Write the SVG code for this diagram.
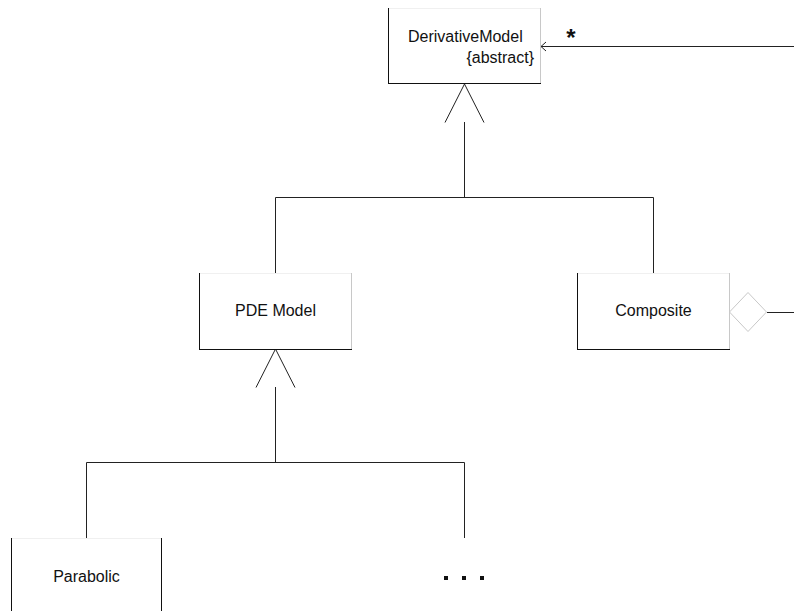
<svg xmlns="http://www.w3.org/2000/svg" width="794" height="611" viewBox="0 0 794 611">
  <style>
    .lbl { font-family: "Liberation Sans", Arial, sans-serif; font-size: 16px; fill: #111; }
    .edge-dark { stroke: #111; stroke-width: 1; fill: none; }
    .edge-light { stroke: #c8c8c8; stroke-width: 1; fill: none; }
    .edge-faint { stroke: #f0f0f0; stroke-width: 1; fill: none; }
    .conn { stroke: #222; stroke-width: 1; fill: none; }
    .gen { stroke: #222; stroke-width: 1; fill: #fff; }
  </style>

  <rect width="794" height="611" fill="#fff"/>

  <!-- connectors -->
  <g id="connectors">
    <!-- association into DerivativeModel -->
    <line class="conn" x1="794" y1="46.5" x2="541" y2="46.5"/>
    <path class="conn" d="M546,42 L541,46.5 L546,51"/>
    <text x="571" y="46" font-family="Liberation Sans, Arial, sans-serif" font-size="24" font-weight="bold" text-anchor="middle" fill="#111">*</text>

    <!-- generalization: PDE Model / Composite to DerivativeModel -->
    <path class="gen" d="M445,122.5 L464.5,84 L484,122.5"/>
    <line class="conn" x1="464.5" y1="122" x2="464.5" y2="197.5"/>
    <path class="conn" d="M275.5,273 L275.5,197.5 L653.5,197.5 L653.5,273"/>

    <!-- generalization: Parabolic / ... to PDE Model -->
    <path class="gen" d="M256,387.5 L275.5,349 L295,387.5"/>
    <line class="conn" x1="275.5" y1="387" x2="275.5" y2="462.5"/>
    <path class="conn" d="M86.5,538 L86.5,462.5 L464.5,462.5 L464.5,538"/>

    <!-- aggregation from Composite -->
    <path d="M729.5,312 L748,292.5 L766.5,312 L748,331.5 Z" fill="#fff" stroke="#c8c8c8" stroke-width="1"/>
    <line class="conn" x1="767" y1="312.5" x2="794" y2="312.5"/>
  </g>

  <!-- DerivativeModel -->
  <g id="node-derivative-model">
    <line class="edge-faint" x1="388.5" y1="8.5" x2="540.5" y2="8.5"/>
    <line class="edge-dark" x1="388.5" y1="8" x2="388.5" y2="83.5"/>
    <line class="edge-dark" x1="388" y1="83.5" x2="541" y2="83.5"/>
    <line class="edge-light" x1="540.5" y1="8" x2="540.5" y2="83"/>
    <text class="lbl" x="408" y="42">DerivativeModel</text>
    <text class="lbl" x="534" y="63" text-anchor="end">{abstract}</text>
  </g>

  <!-- PDE Model -->
  <g id="node-pde-model">
    <line class="edge-faint" x1="199.5" y1="273.5" x2="351.5" y2="273.5"/>
    <line class="edge-dark" x1="199.5" y1="273" x2="199.5" y2="349.5"/>
    <line class="edge-dark" x1="199" y1="349.5" x2="352" y2="349.5"/>
    <line class="edge-light" x1="351.5" y1="273" x2="351.5" y2="349"/>
    <text class="lbl" x="275.5" y="316" text-anchor="middle">PDE Model</text>
  </g>

  <!-- Composite -->
  <g id="node-composite">
    <line class="edge-faint" x1="577.5" y1="273.5" x2="729.5" y2="273.5"/>
    <line class="edge-dark" x1="577.5" y1="273" x2="577.5" y2="349.5"/>
    <line class="edge-dark" x1="577" y1="349.5" x2="730" y2="349.5"/>
    <line class="edge-light" x1="729.5" y1="273" x2="729.5" y2="349"/>
    <text class="lbl" x="653.5" y="316" text-anchor="middle">Composite</text>
  </g>

  <!-- Parabolic -->
  <g id="node-parabolic">
    <line class="edge-faint" x1="11.5" y1="538.5" x2="161.5" y2="538.5"/>
    <line class="edge-dark" x1="11.5" y1="538" x2="11.5" y2="611"/>
    <line class="edge-dark" x1="161.5" y1="538" x2="161.5" y2="611"/>
    <text class="lbl" x="86.5" y="582" text-anchor="middle">Parabolic</text>
  </g>

  <!-- further subclasses -->
  <g id="node-more">
    <rect x="444" y="576" width="4" height="4" fill="#111"/>
    <rect x="462" y="576" width="4" height="4" fill="#111"/>
    <rect x="480" y="576" width="4" height="4" fill="#111"/>
  </g>
</svg>
